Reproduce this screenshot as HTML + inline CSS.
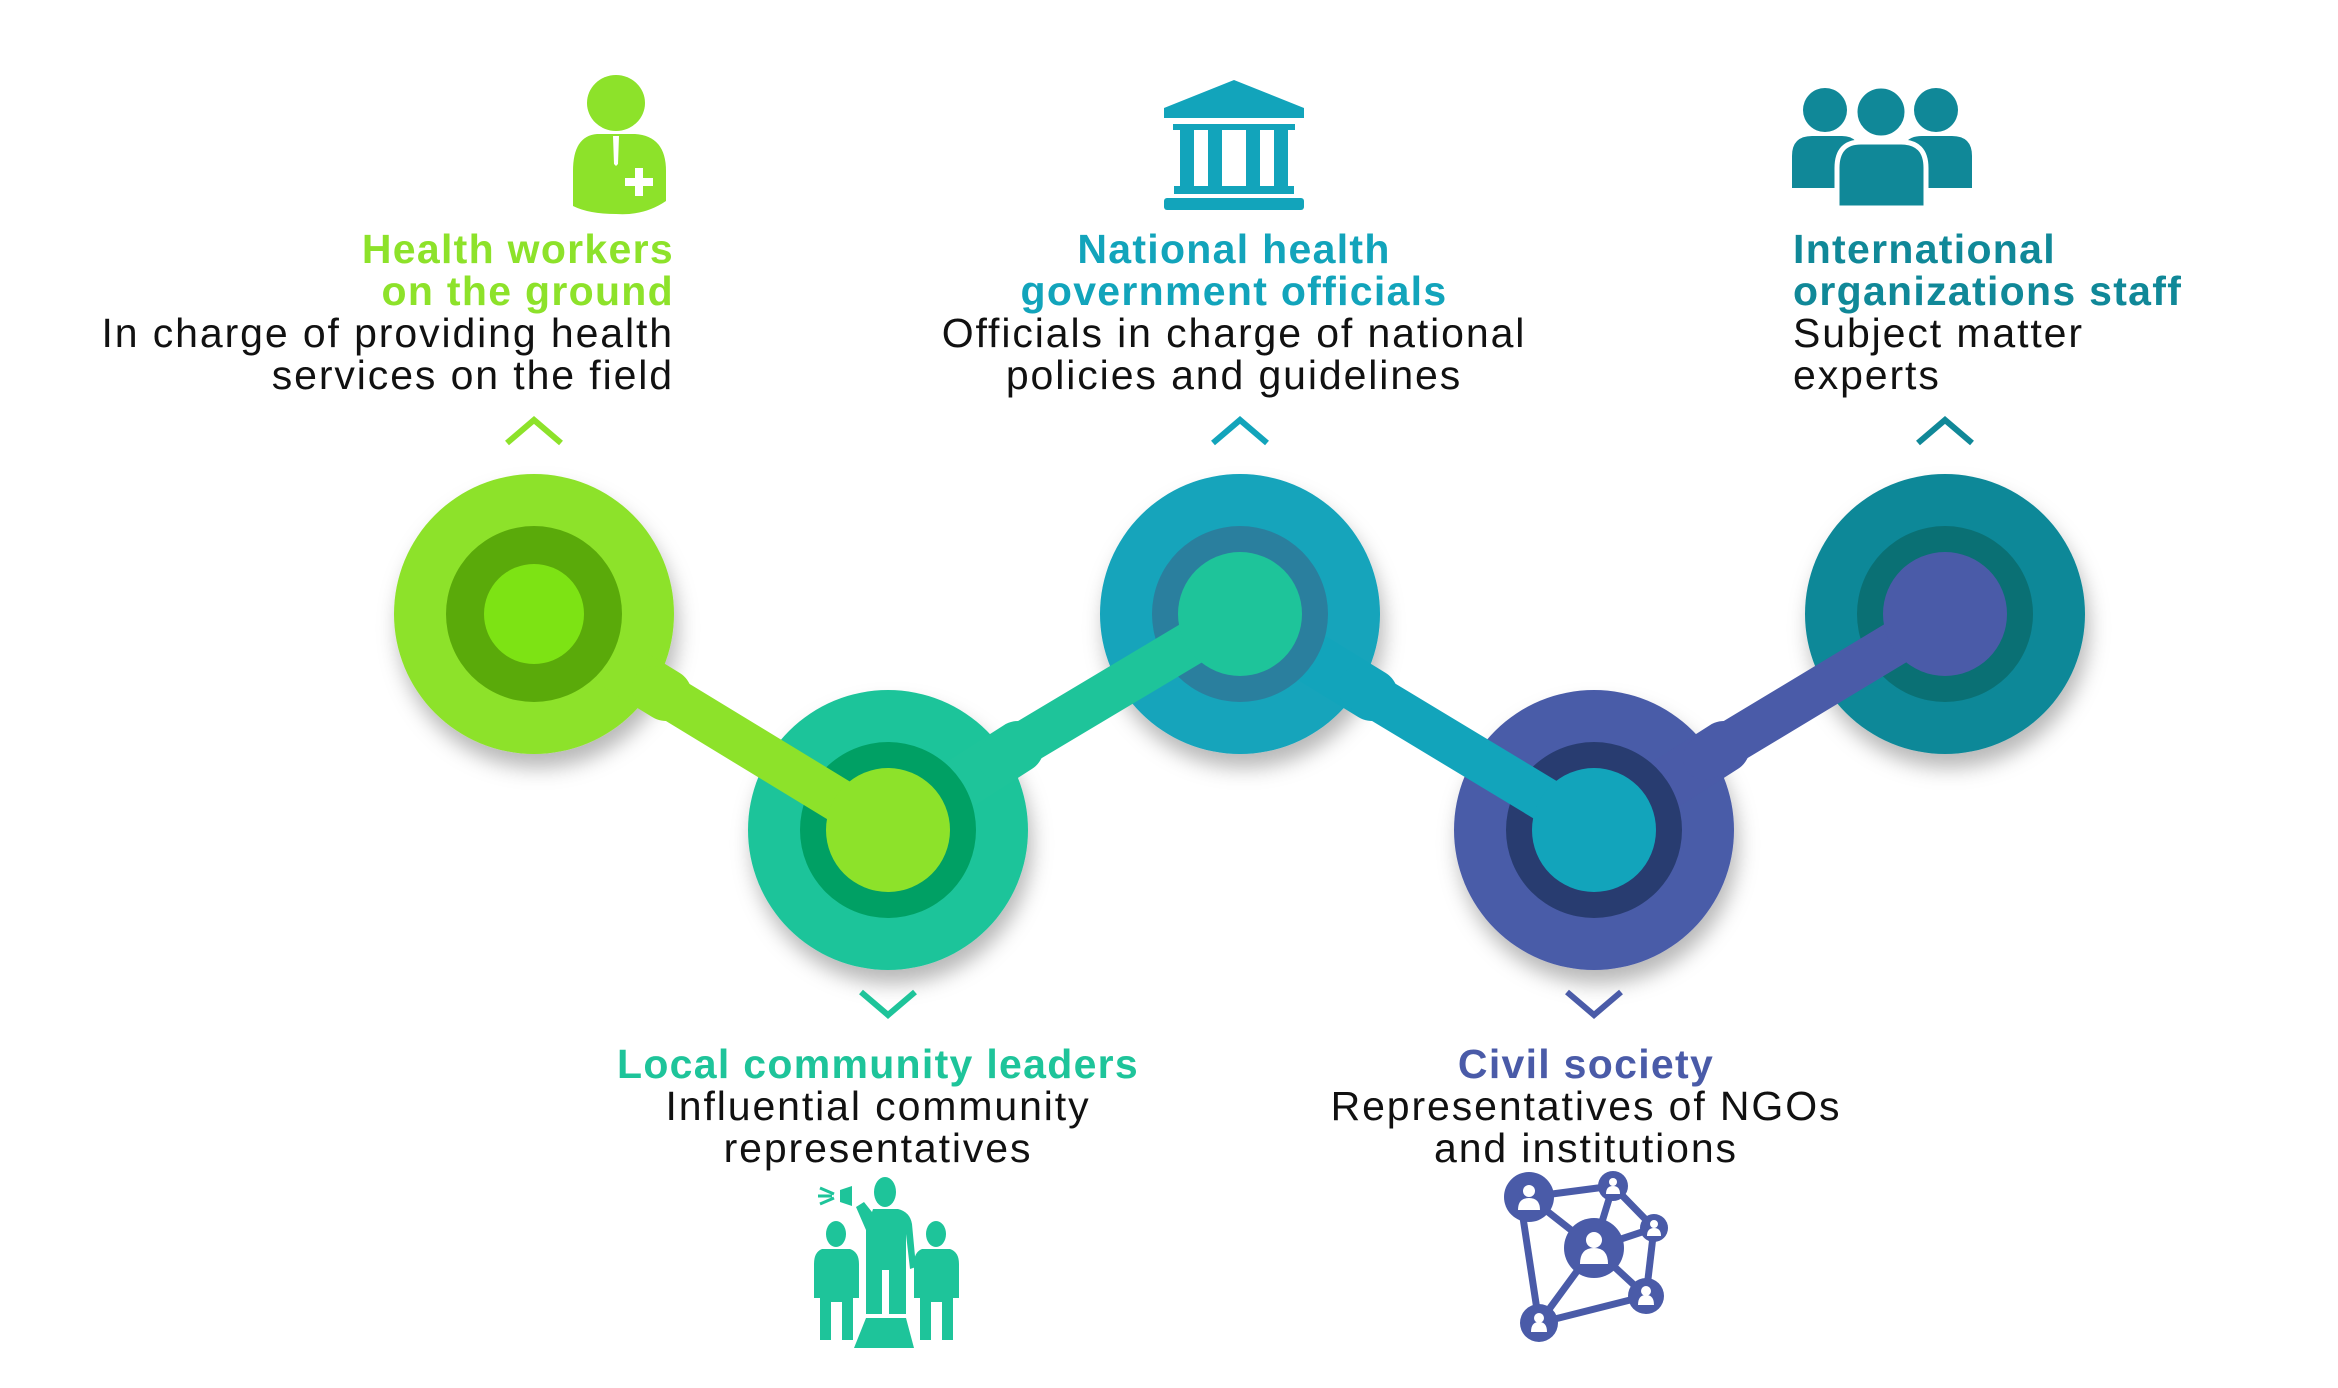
<!DOCTYPE html>
<html><head><meta charset="utf-8"><style>
html,body{margin:0;padding:0;background:#fff;}
svg{display:block}
text{font-family:"Liberation Sans Narrow","Liberation Sans",sans-serif;font-size:41px;letter-spacing:1.9px;}
.t{font-weight:bold;letter-spacing:1.3px}
</style></head><body>
<svg width="2338" height="1388" viewBox="0 0 2338 1388" xmlns="http://www.w3.org/2000/svg">
<defs>
<filter id="sh" x="-30%" y="-30%" width="160%" height="170%">
<feDropShadow dx="4" dy="14" stdDeviation="10" flood-color="#000" flood-opacity="0.28"/>
</filter>
</defs>
<g transform="translate(-6,-4)">
<g filter="url(#sh)">
<circle cx="540" cy="618" r="140" fill="#8de22a"/>
<circle cx="894" cy="834" r="140" fill="#1ec49a"/>
<circle cx="1246" cy="618" r="140" fill="#12a4bb"/>
<circle cx="1600" cy="834" r="140" fill="#4a5ba8"/>
<circle cx="1951" cy="618" r="140" fill="#108898"/>
</g>
<g stroke-linecap="round">
<line x1="540" y1="618" x2="672" y2="699" stroke="#8de22a" stroke-width="52"/>
<line x1="894" y1="834" x2="1024" y2="751" stroke="#1ec49a" stroke-width="52"/>
<line x1="1246" y1="618" x2="1378" y2="699" stroke="#12a4bb" stroke-width="52"/>
<line x1="1600" y1="834" x2="1730" y2="751" stroke="#4a5ba8" stroke-width="52"/>
</g>
<circle cx="540" cy="618" r="88" fill="#5aaa0a"/>
<circle cx="540" cy="618" r="50" fill="#7de314"/>
<circle cx="894" cy="834" r="88" fill="#00a064"/>
<circle cx="1246" cy="618" r="88" fill="#2a7f9e"/>
<circle cx="1600" cy="834" r="88" fill="#283c70"/>
<circle cx="1951" cy="618" r="88" fill="#0a7074"/>
<g stroke-linecap="round">
<line x1="660" y1="692" x2="880" y2="826" stroke="#8de22a" stroke-width="44"/>
<line x1="1005" y1="762" x2="1236" y2="624" stroke="#1ec49a" stroke-width="44"/>
<line x1="1366" y1="692" x2="1588" y2="826" stroke="#12a4bb" stroke-width="44"/>
<line x1="1711" y1="762" x2="1940" y2="624" stroke="#4a5ba8" stroke-width="44"/>
</g>
<circle cx="894" cy="834" r="62" fill="#8de22a"/>
<circle cx="1246" cy="618" r="62" fill="#1ec49a"/>
<circle cx="1600" cy="834" r="62" fill="#12a4bb"/>
<circle cx="1951" cy="618" r="62" fill="#4a5ba8"/>

<g fill="none" stroke-width="6">
<polyline points="513,447 540,424 567,447" stroke="#8de22a"/>
<polyline points="1219,447 1246,424 1273,447" stroke="#12a4bb"/>
<polyline points="1924,447 1951,424 1978,447" stroke="#108898"/>
<polyline points="867,996 894,1019 921,996" stroke="#1ec49a"/>
<polyline points="1573,996 1600,1019 1627,996" stroke="#4a5ba8"/>
</g>

<g text-anchor="end">
<text class="t" x="680" y="267" fill="#8de22a">Health workers</text>
<text class="t" x="680" y="309" fill="#8de22a">on the ground</text>
<text x="680" y="351" fill="#111">In charge of providing health</text>
<text x="680" y="393" fill="#111">services on the field</text>
</g>
<g text-anchor="middle">
<text class="t" x="1240" y="267" fill="#12a4bb">National health</text>
<text class="t" x="1240" y="309" fill="#12a4bb">government officials</text>
<text x="1240" y="351" fill="#111">Officials in charge of national</text>
<text x="1240" y="393" fill="#111">policies and guidelines</text>
<text class="t" x="884" y="1082" fill="#1ec49a">Local community leaders</text>
<text x="884" y="1124" fill="#111">Influential community</text>
<text x="884" y="1166" fill="#111">representatives</text>
<text class="t" x="1592" y="1082" fill="#4a5ba8">Civil society</text>
<text x="1592" y="1124" fill="#111">Representatives of NGOs</text>
<text x="1592" y="1166" fill="#111">and institutions</text>
</g>
<g>
<text class="t" x="1819" y="267" fill="#108898" transform="translate(-20,0)">International</text>
<text class="t" x="1819" y="309" fill="#108898" transform="translate(-20,0)">organizations staff</text>
<text x="1799" y="351" fill="#111">Subject matter</text>
<text x="1799" y="393" fill="#111">experts</text>
</g>

<g fill="#8de22a">
<ellipse cx="622" cy="107" rx="29" ry="28"/>
<path d="M579,215 L579,175 Q579,140 603,138 L641,138 Q672,140 672,175 L672,205 Q650,220 622,218 Q595,218 579,210 Z"/>
</g>
<path d="M619,140 L625,140 L624,168 L622,170 L620,168Z" fill="#fff"/>
<path d="M641,172h8v10h10v8h-10v10h-8v-10h-10v-8h10z" fill="#fff"/>

<g transform="translate(-6,0)" fill="#12a4bb">
<path d="M1246,84 L1316,112 L1316,122 L1176,122 L1176,112 Z"/>
<rect x="1185" y="128" width="122" height="6"/>
<rect x="1192" y="134" width="14" height="58"/>
<rect x="1220" y="134" width="14" height="58"/>
<rect x="1258" y="134" width="14" height="58"/>
<rect x="1286" y="134" width="14" height="58"/>
<rect x="1186" y="190" width="120" height="8"/>
<rect x="1176" y="202" width="140" height="12" rx="3"/>
</g>

<g transform="translate(-14,0)">
<g fill="#108898">
<circle cx="1845" cy="114" r="22"/>
<circle cx="1956" cy="114" r="22"/>
<path d="M1812,192 L1812,160 Q1812,140 1832,140 L1862,140 Q1880,140 1880,160 L1880,192Z"/>
<path d="M1922,192 L1922,160 Q1922,140 1942,140 L1972,140 Q1992,140 1992,160 L1992,192Z"/>
</g>
<g fill="#108898" stroke="#fff" stroke-width="5">
<circle cx="1901" cy="116" r="26"/>
<path d="M1857,212 L1857,172 Q1857,146 1881,146 L1921,146 Q1946,146 1946,172 L1946,212Z"/>
</g>
</g>

<g fill="#1ec49a" transform="translate(6,6)">
<ellipse cx="885" cy="1190" rx="11" ry="15"/>
<path d="M873,1207 L898,1207 Q910,1210 912,1222 L916,1265 L910,1267 L906,1232 L906,1312 L889,1312 L889,1268 L882,1268 L882,1312 L866,1312 L866,1228 L856,1205 L864,1200 L872,1210Z"/>
<path d="M840,1188 L852,1184 L852,1204 L840,1200Z"/>
<path d="M820,1186 l14,6 M818,1194 l14,0 M820,1202 l14,-6" stroke="#1ec49a" stroke-width="3"/>
<ellipse cx="836" cy="1232" rx="10" ry="13"/>
<path d="M822,1247 L850,1247 Q859,1250 859,1262 L859,1296 L853,1296 L853,1338 L842,1338 L842,1300 L831,1300 L831,1338 L820,1338 L820,1296 L814,1296 L814,1262 Q814,1250 822,1247Z"/>
<ellipse cx="936" cy="1232" rx="10" ry="13"/>
<path d="M922,1247 L950,1247 Q959,1250 959,1262 L959,1296 L953,1296 L953,1338 L942,1338 L942,1300 L931,1300 L931,1338 L920,1338 L920,1296 L914,1296 L914,1262 Q914,1250 922,1247Z"/>
<path d="M866,1316 L906,1316 L914,1346 L854,1346Z"/>
</g>

<g stroke="#4a5ba8" stroke-width="7" fill="none">
<line x1="1535" y1="1201" x2="1619" y2="1190"/>
<line x1="1535" y1="1201" x2="1600" y2="1252"/>
<line x1="1528" y1="1215" x2="1545" y2="1327"/>
<line x1="1619" y1="1190" x2="1600" y2="1252"/>
<line x1="1619" y1="1190" x2="1660" y2="1232"/>
<line x1="1660" y1="1232" x2="1600" y2="1252"/>
<line x1="1660" y1="1232" x2="1652" y2="1300"/>
<line x1="1600" y1="1252" x2="1652" y2="1300"/>
<line x1="1600" y1="1252" x2="1545" y2="1327"/>
<line x1="1545" y1="1327" x2="1652" y2="1300"/>
</g>
<g fill="#4a5ba8">
<circle cx="1535" cy="1201" r="25"/>
<circle cx="1619" cy="1190" r="15"/>
<circle cx="1660" cy="1232" r="14"/>
<circle cx="1600" cy="1252" r="30"/>
<circle cx="1652" cy="1300" r="18"/>
<circle cx="1545" cy="1327" r="19"/>
</g>
<g fill="#fff">
<circle cx="1535" cy="1195" r="6"/><path d="M1524,1214 q0,-12 11,-12 q11,0 11,12z"/>
<circle cx="1619" cy="1186" r="4"/><path d="M1612,1198 q0,-8 7,-8 q7,0 7,8z"/>
<circle cx="1660" cy="1228" r="4"/><path d="M1653,1240 q0,-8 7,-8 q7,0 7,8z"/>
<circle cx="1600" cy="1244" r="8"/><path d="M1586,1268 q0,-16 14,-16 q14,0 14,16z"/>
<circle cx="1652" cy="1295" r="5"/><path d="M1644,1309 q0,-10 8,-10 q8,0 8,10z"/>
<circle cx="1545" cy="1322" r="5"/><path d="M1537,1336 q0,-10 8,-10 q8,0 8,10z"/>
</g>
</g>
</svg>
</body></html>
